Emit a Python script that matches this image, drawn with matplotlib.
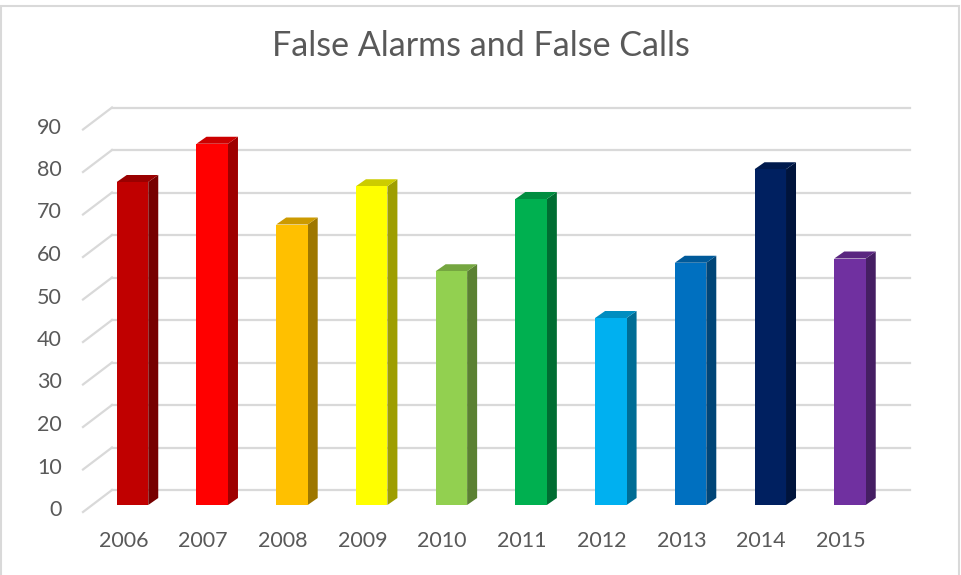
import matplotlib.pyplot as plt
from matplotlib.patches import Polygon, Rectangle
import numpy as np

years = ["2006", "2007", "2008", "2009", "2010", "2011", "2012", "2013", "2014", "2015"]
alarms = [76, 85, 66, 75, 55, 72, 44, 57, 79, 58]
bar_colors = ["#C00000", "#FF0000", "#FFC000", "#FFFF00", "#92D050",
              "#00B050", "#00B0F0", "#0070C0", "#002060", "#7030A0"]
y_ticks = list(range(0, 100, 10))

W, H, DPI = 961, 575, 100
FONT = ["Lato", "DejaVu Sans"]
TEXT_COLOR = "#595959"
GRID_COLOR = "#D9D9D9"

fig = plt.figure(figsize=(W / DPI, H / DPI), dpi=DPI)
fig.patch.set_facecolor("white")

# axes placed so that the bars' front plane sits where the reference has it
pitch = 79.72
x0_px = 132.5 - pitch / 2
y0_px = 505.0
px_per_unit = 4.25
ax = fig.add_axes([x0_px / W, (H - y0_px) / H, pitch * 10 / W, px_per_unit * 90 / H])
ax.set_xlim(-0.5, 9.5)
ax.set_ylim(0, 90)
ax.axis("off")

# fake 3D offsets, in data units
def px_x(d):
    return d / pitch

def px_y(d):
    return d / px_per_unit

back_dx, back_dy = px_x(19.8), px_y(15)
front_dx, front_dy = px_x(-9.2), px_y(-7)
side_dx, side_dy = px_x(10), px_y(7)
bar_w = 31.5 / pitch

left_back = -0.5 + px_x(112 - x0_px)
right_back = -0.5 + px_x(910 - x0_px)
left_front = -0.5 + px_x(83 - x0_px)

for v in y_ticks:
    ax.plot([left_back, right_back], [v + back_dy, v + back_dy],
            color=GRID_COLOR, lw=1.6, clip_on=False, zorder=1)
    ax.plot([left_front, left_back], [v + front_dy, v + back_dy],
            color=GRID_COLOR, lw=1.6, clip_on=False, zorder=1)
    ax.text(left_front - px_x(21), v + front_dy + px_y(2), str(v), ha="right", va="center",
            fontsize=15.5, color=TEXT_COLOR, family=FONT)


def shade(hex_color, f):
    rgb = np.array([int(hex_color[i:i + 2], 16) for i in (1, 3, 5)]) / 255.0
    return tuple(rgb * f)


xs = np.arange(len(years))
ax.bar(xs, alarms, width=bar_w, color=bar_colors, zorder=3, clip_on=False)

for x, v, c in zip(xs, alarms, bar_colors):
    xl, xr = x - bar_w / 2, x + bar_w / 2
    side = Polygon([(xr, 0), (xr, v), (xr + side_dx, v + side_dy), (xr + side_dx, side_dy)],
                   closed=True, facecolor=shade(c, 0.62), edgecolor="none", zorder=2, clip_on=False)
    top = Polygon([(xl, v), (xr, v), (xr + side_dx, v + side_dy), (xl + side_dx, v + side_dy)],
                  closed=True, facecolor=shade(c, 0.8), edgecolor="none", zorder=2, clip_on=False)
    ax.add_patch(side)
    ax.add_patch(top)
    ax.text(x + front_dx, -px_y(36), years[x], ha="center", va="center",
            fontsize=15.5, color=TEXT_COLOR, family=FONT)

fig.text(480.5 / W, 1 - 45.5 / H, "False Alarms and False Calls", ha="center", va="center",
         fontsize=24.5, color=TEXT_COLOR, family=FONT)

fig.patches.append(Rectangle((1 / W, -0.01), 957.5 / W, 1.0, transform=fig.transFigure,
                             fill=False, edgecolor="#D9D9D9", lw=1.5))

fig.savefig("out.png", dpi=DPI)
